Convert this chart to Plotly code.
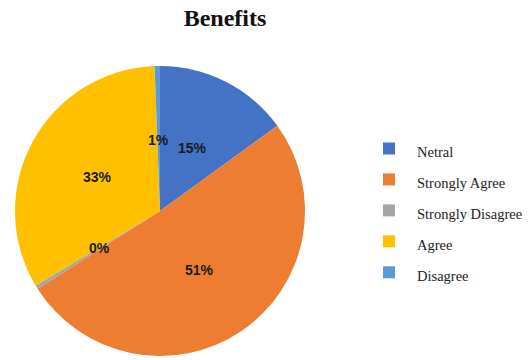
import math
import plotly.graph_objects as go

labels = ["Netral", "Strongly Agree", "Strongly Disagree", "Agree", "Disagree"]
values = [15, 51, 0.4, 33, 0.6]
pct_text = ["15%", "51%", "0%", "33%", "1%"]
colors = ["#4472C4", "#ED7D31", "#A5A5A5", "#FFC000", "#5B9BD5"]

W, H = 531, 360
cx, cy, r = 160, 211, 145

fig = go.Figure(go.Pie(
    labels=[f'<span style="font-size:14.5px">{l}</span>' for l in labels],
    values=values,
    sort=False,
    direction="clockwise",
    rotation=0,
    marker=dict(colors=colors, line=dict(width=0)),
    textinfo="none",
    hoverinfo="label+percent",
    domain=dict(x=[(cx - r) / W, (cx + r) / W], y=[1 - (cy + r) / H, 1 - (cy - r) / H]),
))

# labels placed at mid-angle of each slice, about half the radius out
total = sum(values)
cum = 0
annotations = []
for v, t in zip(values, pct_text):
    mid = (cum + v / 2) / total * 2 * math.pi
    cum += v
    px = cx + 0.49 * r * math.sin(mid)
    py = cy - 0.49 * r * math.cos(mid)
    annotations.append(dict(
        x=px / W, y=1 - py / H, xref="paper", yref="paper",
        xanchor="center", yanchor="middle",
        text=t, showarrow=False,
        font=dict(family="Liberation Sans", size=14, color="#1a1a1a", weight="bold"),
    ))

fig.update_layout(
    width=W, height=H,
    margin=dict(l=0, r=0, t=0, b=0),
    paper_bgcolor="white",
    plot_bgcolor="white",
    title=dict(
        text="<b>Benefits</b>",
        x=225 / W, xanchor="center",
        y=1 - 18 / H, yanchor="middle",
        font=dict(family="Liberation Serif", size=24, color="#111111"),
    ),
    legend=dict(
        x=361 / W, xanchor="left",
        y=1 - 128 / H, yanchor="top",
        font=dict(family="Liberation Serif", size=21.5, color="#222222"),
        traceorder="normal",
        itemwidth=46,
        bgcolor="rgba(0,0,0,0)",
    ),
    annotations=annotations,
    showlegend=True,
)

fig.write_html("out.html")
